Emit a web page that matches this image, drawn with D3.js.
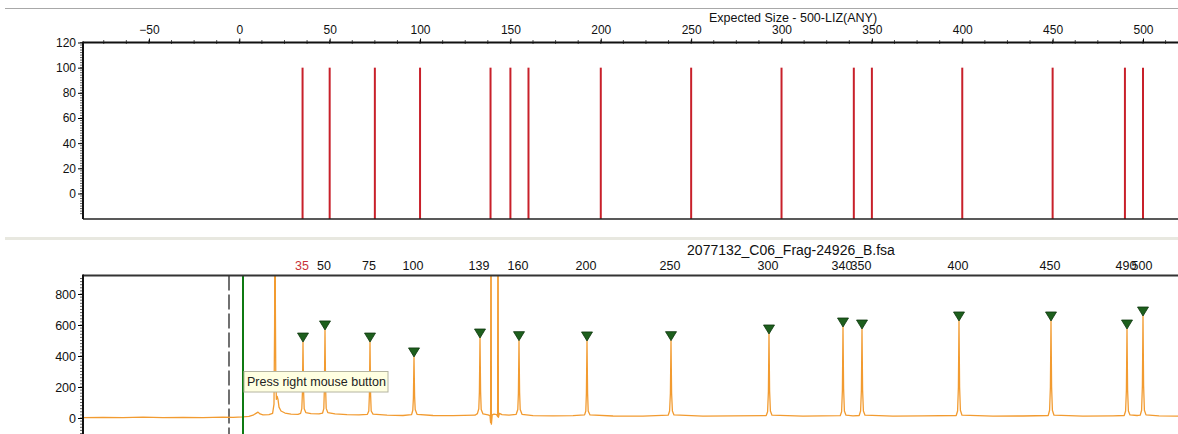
<!DOCTYPE html>
<html>
<head>
<meta charset="utf-8">
<script src="https://cdn.jsdelivr.net/npm/d3@7"></script>
<style>
  body { margin: 0; background: #fff; }
  svg { display: block; font-family: "Liberation Sans", Arial, sans-serif; }
</style>
</head>
<body>
<div id="chart"></div>
<script>
// 500-LIZ size standard, expected fragment sizes (bp)
const expectedSizes = [35, 50, 75, 100, 139, 150, 160, 200, 250, 300, 340, 350, 400, 450, 490, 500];
const expectedHeight = 100;
const sizeTicks = [-50, 0, 50, 100, 150, 200, 250, 300, 350, 400, 450, 500];
const expectedTicks = [0, 20, 40, 60, 80, 100, 120];

// called peaks in the sample: size label, scan number, height (RFU)
const calledSizes = [35, 50, 75, 100, 139, 160, 200, 250, 300, 340, 350, 400, 450, 490, 500];
const calledScans = [2000, 2110, 2335, 2555, 2885, 3080, 3420, 3840, 4330, 4700, 4795, 5280, 5740, 6120, 6200];
const calledHeights = [490, 568, 490, 394, 516, 499, 497, 499, 542, 587, 574, 626, 626, 574, 658];
const rfuTicks = [0, 200, 400, 600, 800];

// cursor lines (scan)
const dashedScan = 1630;
const greenScan = 1700;

// raw orange trace, [scan, RFU]
const trace = [
  [900, 3], [1000, 4], [1100, 2], [1200, 5], [1300, 3], [1400, 4], [1500, 2], [1600, 5], [1650, 4], [1700, 7],
  [1730, 10], [1750, 18], [1765, 30], [1775, 38], [1785, 26], [1800, 20], [1830, 22], [1848, 30],
  [1855, 90], [1858, 600], [1860, 2000], [1862, 700], [1864, 260], [1867, 120], [1871, 140], [1875, 120],
  [1880, 70], [1890, 45], [1910, 32], [1940, 25], [1975, 24],
  [1988, 30], [1994, 60], [1997, 160], [2000, 490], [2003, 170], [2006, 60], [2014, 35], [2040, 28], [2080, 26], [2098, 32],
  [2104, 60], [2107, 190], [2110, 568], [2113, 190], [2116, 62], [2124, 35], [2160, 26], [2220, 22], [2280, 20], [2322, 24],
  [2329, 45], [2332, 150], [2335, 490], [2338, 150], [2341, 45], [2350, 25], [2420, 18], [2500, 16], [2543, 22],
  [2549, 50], [2552, 130], [2555, 394], [2558, 140], [2561, 55], [2570, 24], [2650, 16], [2750, 15], [2860, 18], [2872, 28],
  [2879, 60], [2882, 170], [2885, 516], [2888, 170], [2891, 55], [2900, 26], [2925, 20], [2935, 15],
  [2938, -30], [2940, 2000], [2942, -40], [2946, 20], [2955, 25], [2968, 22], [2973, 10], [2975, 2000], [2977, 5],
  [2982, 30], [2995, 22], [3030, 18], [3066, 24],
  [3074, 55], [3077, 160], [3080, 499], [3083, 165], [3086, 55], [3095, 24], [3150, 15], [3250, 14], [3350, 15], [3408, 20],
  [3414, 45], [3417, 160], [3420, 497], [3423, 160], [3426, 45], [3435, 20], [3550, 13], [3700, 12], [3826, 18],
  [3833, 45], [3837, 160], [3840, 499], [3843, 160], [3847, 45], [3855, 20], [4000, 12], [4150, 14], [4316, 16],
  [4323, 40], [4327, 170], [4330, 542], [4333, 175], [4337, 45], [4345, 18], [4500, 12], [4686, 15],
  [4693, 40], [4697, 180], [4700, 587], [4703, 190], [4707, 45], [4715, 18], [4750, 14], [4781, 16],
  [4788, 45], [4792, 180], [4795, 574], [4798, 180], [4802, 45], [4810, 18], [4950, 12], [5100, 14], [5266, 16],
  [5273, 45], [5277, 200], [5280, 626], [5283, 200], [5287, 50], [5295, 18], [5450, 12], [5600, 13], [5726, 16],
  [5733, 50], [5737, 200], [5740, 626], [5743, 200], [5747, 50], [5755, 18], [5900, 12], [6050, 14], [6106, 16],
  [6113, 45], [6117, 180], [6120, 574], [6123, 180], [6127, 45], [6135, 20], [6170, 16], [6186, 18],
  [6193, 50], [6197, 210], [6200, 658], [6203, 210], [6207, 50], [6215, 20], [6280, 14], [6380, 12]
];

const width = 1178;
const height = 434;
const left = 83;

const svg = d3.select("#chart").append("svg")
  .attr("width", width)
  .attr("height", height);

// window separators
svg.append("line")
  .attr("x1", 5).attr("x2", width).attr("y1", 8.5).attr("y2", 8.5)
  .attr("stroke", "#a8a8a8");
svg.append("line")
  .attr("x1", 5).attr("x2", width).attr("y1", 238.5).attr("y2", 238.5)
  .attr("stroke", "#e8e8e0").attr("stroke-width", 3);

// ---------------- top panel: expected sizes ----------------
const xTop = d3.scaleLinear().domain([0, 500]).range([239.3, 1143]);
const yTop = d3.scaleLinear().domain([0, 120]).range([193.5, 42.5]);
const topBottom = 219;

svg.append("text")
  .attr("x", 793).attr("y", 21.5)
  .attr("text-anchor", "middle")
  .attr("font-size", 12.5)
  .attr("fill", "#111")
  .text("Expected Size - 500-LIZ(ANY)");

// minor ticks along the top axis
svg.append("g")
  .selectAll("line")
  .data(d3.range(-75, 525, 12.5))
  .join("line")
  .attr("x1", (d) => xTop(d)).attr("x2", (d) => xTop(d))
  .attr("y1", 40).attr("y2", 44)
  .attr("stroke", "#555");

const topAxis = svg.append("g")
  .attr("transform", `translate(0,${yTop(120)})`)
  .call(d3.axisTop(xTop).tickValues(sizeTicks).tickSize(4).tickPadding(5));
topAxis.select(".domain").remove();
topAxis.selectAll("text").attr("font-size", 12).attr("fill", "#111");

// minor ticks on the left axis
svg.append("g")
  .selectAll("line")
  .data(d3.range(-16, 121, 2))
  .join("line")
  .attr("x1", left - 3).attr("x2", left)
  .attr("y1", (d) => yTop(d)).attr("y2", (d) => yTop(d))
  .attr("stroke", "#666");

const topLeft = svg.append("g")
  .attr("transform", `translate(${left},0)`)
  .call(d3.axisLeft(yTop).tickValues(expectedTicks).tickSize(5).tickPadding(2));
topLeft.select(".domain").remove();
topLeft.selectAll("text").attr("font-size", 12).attr("fill", "#111");

// expected size bars
svg.append("g")
  .selectAll("line")
  .data(expectedSizes)
  .join("line")
  .attr("x1", (d) => xTop(d)).attr("x2", (d) => xTop(d))
  .attr("y1", yTop(expectedHeight)).attr("y2", topBottom)
  .attr("stroke", "#c8202a")
  .attr("stroke-width", 2);

// frame of the top plot
svg.append("line").attr("x1", left).attr("x2", width).attr("y1", yTop(120)).attr("y2", yTop(120))
  .attr("stroke", "#111").attr("stroke-width", 2);
svg.append("line").attr("x1", left).attr("x2", width).attr("y1", topBottom).attr("y2", topBottom)
  .attr("stroke", "#222").attr("stroke-width", 1.5);
svg.append("line").attr("x1", left).attr("x2", left).attr("y1", yTop(120) - 1).attr("y2", topBottom)
  .attr("stroke", "#111").attr("stroke-width", 2);

// ---------------- bottom panel: electropherogram ----------------
const xScan = d3.scaleLinear().domain([900, 6375]).range([left, width]);
const yRfu = d3.scaleLinear().domain([0, 800]).range([418, 294]);
const plotTop = 275.5;

svg.append("text")
  .attr("x", 791).attr("y", 255)
  .attr("text-anchor", "middle")
  .attr("font-size", 14)
  .attr("fill", "#111")
  .text("2077132_C06_Frag-24926_B.fsa");

// size labels above the peaks
svg.append("g")
  .selectAll("text")
  .data(calledSizes)
  .join("text")
  .attr("x", (d, i) => xScan(calledScans[i]) - 1)
  .attr("y", 269.5)
  .attr("text-anchor", "middle")
  .attr("font-size", 12.5)
  .attr("fill", (d) => (d === 35 ? "#c8323a" : "#111"))
  .text((d) => d);

svg.append("defs").append("clipPath").attr("id", "plot-clip")
  .append("rect")
  .attr("x", left).attr("y", plotTop)
  .attr("width", width - left).attr("height", height - plotTop + 10);

const plot = svg.append("g").attr("clip-path", "url(#plot-clip)");

// cursor lines
plot.append("line")
  .attr("x1", xScan(dashedScan)).attr("x2", xScan(dashedScan))
  .attr("y1", plotTop).attr("y2", height + 5)
  .attr("stroke", "#111").attr("stroke-width", 1.2)
  .attr("stroke-dasharray", "15,4");

const line = d3.line()
  .x((d) => xScan(d[0]))
  .y((d) => yRfu(d[1]));

plot.append("path")
  .datum(trace)
  .attr("fill", "none")
  .attr("stroke", "#f29b30")
  .attr("stroke-width", 1.3)
  .attr("stroke-linejoin", "round")
  .attr("d", line);

plot.append("line")
  .attr("x1", xScan(greenScan)).attr("x2", xScan(greenScan))
  .attr("y1", plotTop).attr("y2", height + 5)
  .attr("stroke", "#0f7a12").attr("stroke-width", 2);

// peak markers
plot.append("g")
  .selectAll("path")
  .data(calledScans)
  .join("path")
  .attr("d", (d, i) => {
    const x = xScan(d);
    const y = yRfu(calledHeights[i]);
    return `M${x - 5.5},${y - 9}L${x + 5.5},${y - 9}L${x},${y}Z`;
  })
  .attr("fill", "#1d5f1d")
  .attr("stroke", "#0c360c")
  .attr("stroke-width", 0.8);

// minor ticks on the left axis
svg.append("g")
  .selectAll("line")
  .data(d3.range(-100, 920, 20))
  .join("line")
  .attr("x1", left - 3).attr("x2", left)
  .attr("y1", (d) => yRfu(d)).attr("y2", (d) => yRfu(d))
  .attr("stroke", "#666");

const bottomLeft = svg.append("g")
  .attr("transform", `translate(${left},0)`)
  .call(d3.axisLeft(yRfu).tickValues(rfuTicks).tickSize(5).tickPadding(2));
bottomLeft.select(".domain").remove();
bottomLeft.selectAll("text").attr("font-size", 12.5).attr("fill", "#111");

svg.append("line").attr("x1", left).attr("x2", width).attr("y1", plotTop).attr("y2", plotTop)
  .attr("stroke", "#333").attr("stroke-width", 2);
svg.append("line").attr("x1", left).attr("x2", left).attr("y1", plotTop - 1).attr("y2", height)
  .attr("stroke", "#111").attr("stroke-width", 2);

// tooltip
const tip = svg.append("g").attr("transform", "translate(244,371.5)");
tip.append("rect")
  .attr("width", 144).attr("height", 20.5)
  .attr("fill", "#ffffe1")
  .attr("stroke", "#b4b4a0");
tip.append("text")
  .attr("x", 3).attr("y", 14)
  .attr("font-size", 12.5)
  .attr("fill", "#222")
  .text("Press right mouse button");
</script>
</body>
</html>
